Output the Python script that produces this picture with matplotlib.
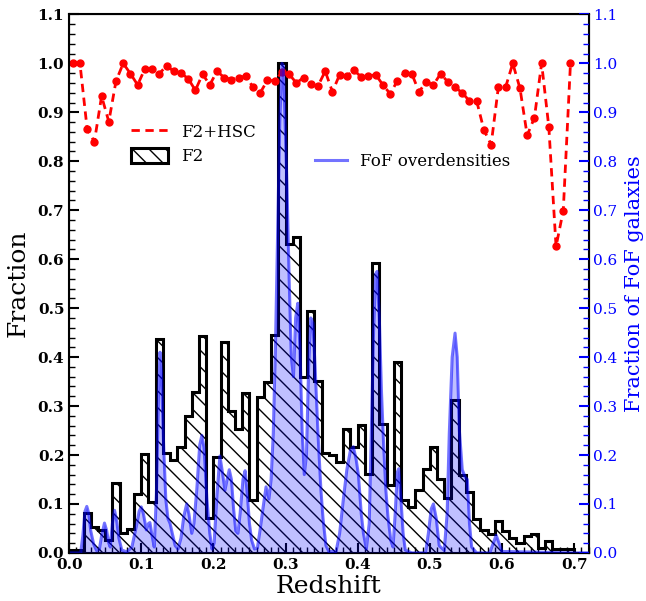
import numpy as np
import matplotlib
matplotlib.use("Agg")
from matplotlib import pyplot as plt
from matplotlib.ticker import MultipleLocator

plt.rcParams['font.family'] = ['DejaVu Serif']
plt.rcParams['hatch.linewidth'] = 1.0

# F2 histogram (bins of 0.01 in redshift)
bin_edges = np.round(np.arange(0.0, 0.705, 0.01), 3)
f2_frac = [0.005, 0.005, 0.081, 0.052, 0.046, 0.026, 0.142, 0.040, 0.048, 0.120,
           0.202, 0.103, 0.438, 0.204, 0.190, 0.217, 0.279, 0.329, 0.444, 0.071,
           0.196, 0.431, 0.290, 0.254, 0.327, 0.108, 0.318, 0.350, 0.445, 1.000,
           0.631, 0.646, 0.360, 0.495, 0.352, 0.204, 0.200, 0.186, 0.253, 0.217,
           0.262, 0.161, 0.593, 0.263, 0.138, 0.389, 0.108, 0.094, 0.129, 0.172,
           0.217, 0.151, 0.113, 0.313, 0.160, 0.125, 0.069, 0.046, 0.038, 0.065,
           0.045, 0.031, 0.021, 0.035, 0.038, 0.011, 0.025, 0.008, 0.009, 0.009]

# F2+HSC completeness at bin centres
hsc_z = np.round(np.arange(0.005, 0.70, 0.01), 3)
hsc_frac = [1.000, 1.000, 0.866, 0.840, 0.933, 0.881, 0.964, 1.000, 0.979, 0.956,
            0.989, 0.989, 0.979, 0.995, 0.984, 0.980, 0.969, 0.945, 0.978, 0.956,
            0.984, 0.971, 0.967, 0.971, 0.974, 0.951, 0.940, 0.966, 0.964, 0.982,
            0.978, 0.960, 0.971, 0.957, 0.954, 0.984, 0.942, 0.977, 0.974, 0.986,
            0.972, 0.974, 0.977, 0.956, 0.938, 0.964, 0.981, 0.979, 0.942, 0.962,
            0.956, 0.979, 0.962, 0.951, 0.940, 0.923, 0.923, 0.864, 0.834, 0.951,
            0.951, 1.000, 0.949, 0.853, 0.889, 1.000, 0.870, 0.626, 0.699, 1.000]

# FoF overdensities
fof_z = [0.000, 0.016, 0.019, 0.022, 0.0245, 0.027, 0.030, 0.034, 0.038, 0.042,
         0.045, 0.049, 0.052, 0.055, 0.057, 0.060, 0.063, 0.066, 0.069, 0.073,
         0.080, 0.087, 0.091, 0.094, 0.097, 0.100, 0.103, 0.107, 0.110, 0.112,
         0.115, 0.118, 0.121, 0.124, 0.126, 0.128, 0.131, 0.134, 0.137, 0.140,
         0.143, 0.147, 0.151, 0.155, 0.159, 0.163, 0.166, 0.170, 0.173, 0.177,
         0.181, 0.184, 0.187, 0.191, 0.195, 0.198, 0.201, 0.205, 0.209, 0.212,
         0.216, 0.219, 0.222, 0.225, 0.228, 0.231, 0.234, 0.237, 0.241, 0.244,
         0.247, 0.250, 0.253, 0.257, 0.261, 0.265, 0.269, 0.273, 0.277, 0.280,
         0.283, 0.286, 0.289, 0.292, 0.295, 0.297, 0.299, 0.302, 0.305, 0.308,
         0.311, 0.314, 0.317, 0.320, 0.323, 0.326, 0.329, 0.332, 0.335, 0.338,
         0.341, 0.345, 0.349, 0.352, 0.356, 0.360, 0.370, 0.375, 0.380, 0.385,
         0.390, 0.394, 0.398, 0.401, 0.405, 0.408, 0.412, 0.416, 0.419, 0.422,
         0.425, 0.427, 0.430, 0.433, 0.436, 0.439, 0.442, 0.446, 0.449, 0.452,
         0.455, 0.457, 0.460, 0.463, 0.466, 0.475, 0.494, 0.498, 0.502, 0.505,
         0.509, 0.513, 0.520, 0.524, 0.527, 0.531, 0.535, 0.538, 0.541, 0.545,
         0.549, 0.552, 0.555, 0.558, 0.565, 0.583, 0.588, 0.592, 0.596, 0.600,
         0.700, 0.720]
fof_frac = [0.000, 0.000, 0.035, 0.085, 0.095, 0.082, 0.045, 0.018, 0.005, 0.008,
            0.035, 0.061, 0.046, 0.020, 0.012, 0.060, 0.087, 0.065, 0.030, 0.006,
            0.002, 0.012, 0.040, 0.060, 0.085, 0.094, 0.080, 0.047, 0.060, 0.062,
            0.035, 0.012, 0.120, 0.330, 0.410, 0.370, 0.220, 0.110, 0.070, 0.060,
            0.040, 0.015, 0.008, 0.030, 0.075, 0.100, 0.080, 0.040, 0.060, 0.130,
            0.220, 0.240, 0.215, 0.110, 0.040, 0.008, 0.020, 0.120, 0.198, 0.170,
            0.128, 0.150, 0.170, 0.150, 0.090, 0.045, 0.040, 0.080, 0.150, 0.168,
            0.120, 0.060, 0.026, 0.008, 0.010, 0.050, 0.094, 0.135, 0.110, 0.150,
            0.244, 0.420, 0.650, 0.880, 1.000, 0.995, 0.900, 0.750, 0.560, 0.400,
            0.360, 0.480, 0.510, 0.420, 0.250, 0.160, 0.200, 0.380, 0.480, 0.470,
            0.380, 0.244, 0.130, 0.070, 0.015, 0.003, 0.003, 0.040, 0.108, 0.170,
            0.210, 0.217, 0.190, 0.160, 0.080, 0.040, 0.008, 0.060, 0.250, 0.450,
            0.570, 0.575, 0.480, 0.330, 0.220, 0.130, 0.074, 0.025, 0.012, 0.080,
            0.165, 0.172, 0.110, 0.040, 0.006, 0.000, 0.000, 0.040, 0.090, 0.100,
            0.070, 0.015, 0.005, 0.080, 0.244, 0.400, 0.449, 0.400, 0.250, 0.170,
            0.155, 0.150, 0.060, 0.012, 0.000, 0.000, 0.020, 0.036, 0.020, 0.003,
            0.000, 0.000]

fig = plt.figure(figsize=(6.46, 6.01), dpi=100)
ax = fig.add_axes([0.107, 0.080, 0.804, 0.896])

hist = ax.stairs(f2_frac, bin_edges, fill=True, facecolor='none', edgecolor='k',
                 hatch='\\\\', linewidth=2.2, label='F2')
line, = ax.plot(hsc_z, hsc_frac, 'r--', linewidth=2.0, dashes=(3, 2),
                label='F2+HSC')
ax.plot(hsc_z, hsc_frac, 'o', color='r', markersize=5)

ax.set_xlim(0, 0.72)
ax.set_ylim(0, 1.1)
ax.xaxis.set_major_locator(MultipleLocator(0.1))
ax.xaxis.set_minor_locator(MultipleLocator(0.01))
ax.yaxis.set_major_locator(MultipleLocator(0.1))
ax.yaxis.set_minor_locator(MultipleLocator(0.02))
ax.tick_params(which='both', direction='in', right=False, top=False)
ax.tick_params(which='major', length=7, width=1.5, labelsize=11)
ax.tick_params(which='minor', length=4, width=1)
for lab in ax.get_xticklabels() + ax.get_yticklabels():
    lab.set_fontweight('bold')
for s in ax.spines.values():
    s.set_linewidth(1.5)
ax.set_xlabel('Redshift', fontsize=18, labelpad=2)
ax.set_ylabel('Fraction', fontsize=18, labelpad=6)

ax2 = ax.twinx()
ax2.fill_between(fof_z, fof_frac, color='blue', alpha=0.25, linewidth=0)
fof_line, = ax2.plot(fof_z, fof_frac, color='blue', alpha=0.55, linewidth=2.2,
                     label='FoF overdensities')
ax2.set_ylim(0, 1.1)
ax2.yaxis.set_major_locator(MultipleLocator(0.1))
ax2.yaxis.set_minor_locator(MultipleLocator(0.02))
ax2.tick_params(axis='y', which='both', direction='in', colors='blue')
ax2.tick_params(axis='y', which='major', length=7, width=1.5, labelsize=11)
ax2.tick_params(axis='y', which='minor', length=4, width=1)
ax2.spines['right'].set_color('k')
ax2.set_ylabel('Fraction of FoF galaxies', color='blue', fontsize=15, labelpad=5)

ax.legend(handles=[line, hist], loc='upper left', bbox_to_anchor=(0.09, 0.825),
          frameon=False, fontsize=12, handlelength=2.2, handleheight=1.0,
          labelspacing=0.45)
ax2.legend(handles=[fof_line], loc='upper left', bbox_to_anchor=(0.445, 0.77),
           frameon=False, fontsize=12, handlelength=1.9)

fig.savefig('out.png', dpi=100)
